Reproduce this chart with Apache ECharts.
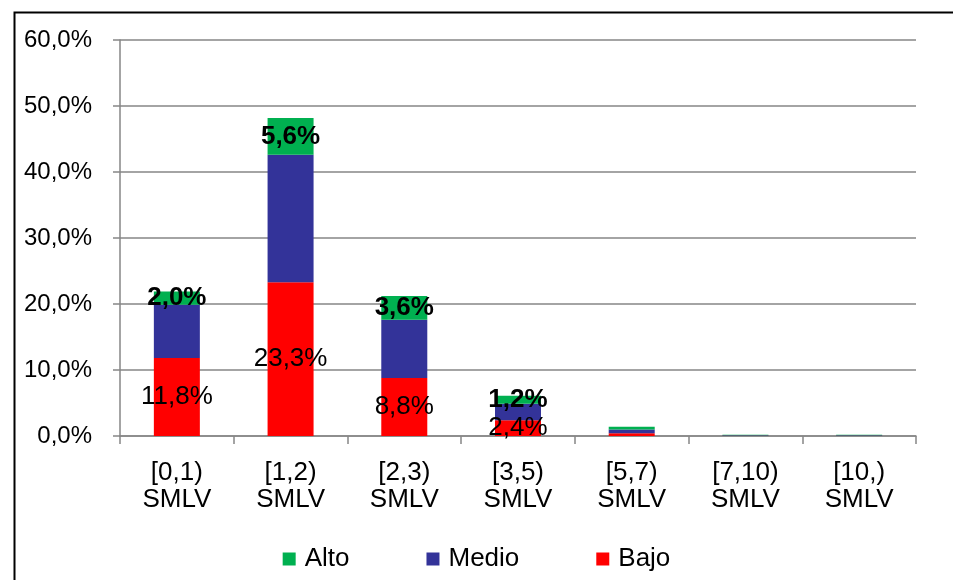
<!DOCTYPE html>
<html>
<head>
<meta charset="utf-8">
<script src="https://cdn.jsdelivr.net/npm/echarts@6/dist/echarts.min.js"></script>
<style>html,body{margin:0;padding:0;background:#fff;}#c{width:953px;height:580px;}</style>
</head>
<body>
<div id="c"></div>
<script>
const categories = ['[0,1)\nSMLV','[1,2)\nSMLV','[2,3)\nSMLV','[3,5)\nSMLV','[5,7)\nSMLV','[7,10)\nSMLV','[10,)\nSMLV'];
const bajo  = [11.8, 23.3, 8.8, 2.4, 0.4, 0.03, 0.03];
const medio = [8.1, 19.3, 8.8, 2.5, 0.6, 0.08, 0.08];
const alto  = [2.0, 5.6, 3.6, 1.2, 0.4, 0.08, 0.08];
const yTicks = {min: 0, max: 60, interval: 10};

const fmt = v => v.toFixed(1).replace('.', ',') + '%';
const FONT = 'Liberation Sans, Arial, sans-serif';

const chart = echarts.init(document.getElementById('c'), null, {renderer: 'canvas'});
function labelCfg(bold) {
  return {
    show: true, position: 'inside', color: '#000',
    fontFamily: FONT, fontSize: 26, fontWeight: bold ? 'bold' : 'normal',
    formatter: p => p.value >= 1 ? fmt(p.value) : ''
  };
}
chart.setOption({
  animation: false,
  backgroundColor: '#fff',
  graphic: [{
    type: 'rect', left: 12, top: 10, z: 100,
    shape: {x: 0, y: 0, width: 1000, height: 700},
    style: {fill: 'none', stroke: '#000', lineWidth: 2}
  }],
  grid: {left: 120, right: 37, top: 40, bottom: 144, containLabel: false},
  legend: {
    data: ['Alto', 'Medio', 'Bajo'],
    left: 'center', top: 541,
    itemWidth: 13, itemHeight: 13, itemGap: 77,
    icon: 'rect',
    textStyle: {fontFamily: FONT, fontSize: 26, color: '#000', padding: [0, 0, 0, 4]}
  },
  xAxis: {
    type: 'category', data: categories,
    axisLine: {lineStyle: {color: '#868686', width: 1.5}},
    axisTick: {show: true, length: 8, interval: 0, lineStyle: {color: '#868686', width: 1.5}},
    axisLabel: {fontFamily: FONT, fontSize: 26, color: '#000', lineHeight: 27, margin: 23, interval: 0}
  },
  yAxis: {
    type: 'value', min: yTicks.min, max: yTicks.max, interval: yTicks.interval,
    axisLine: {show: true, lineStyle: {color: '#868686', width: 1.5}},
    axisTick: {show: true, length: 7, lineStyle: {color: '#868686', width: 1.5}},
    splitLine: {lineStyle: {color: '#868686', width: 1.5}},
    axisLabel: {fontFamily: FONT, fontSize: 24, color: '#000', margin: 28, formatter: v => fmt(v)}
  },
  series: [
    {name: 'Bajo', type: 'bar', stack: 's', data: bajo, barWidth: 46, itemStyle: {color: '#FF0000'}, label: labelCfg(false)},
    {name: 'Medio', type: 'bar', stack: 's', data: medio, barWidth: 46, itemStyle: {color: '#333399'}},
    {name: 'Alto', type: 'bar', stack: 's', data: alto, barWidth: 46, itemStyle: {color: '#00B050'}, label: labelCfg(true)}
  ]
});
</script>
</body>
</html>
